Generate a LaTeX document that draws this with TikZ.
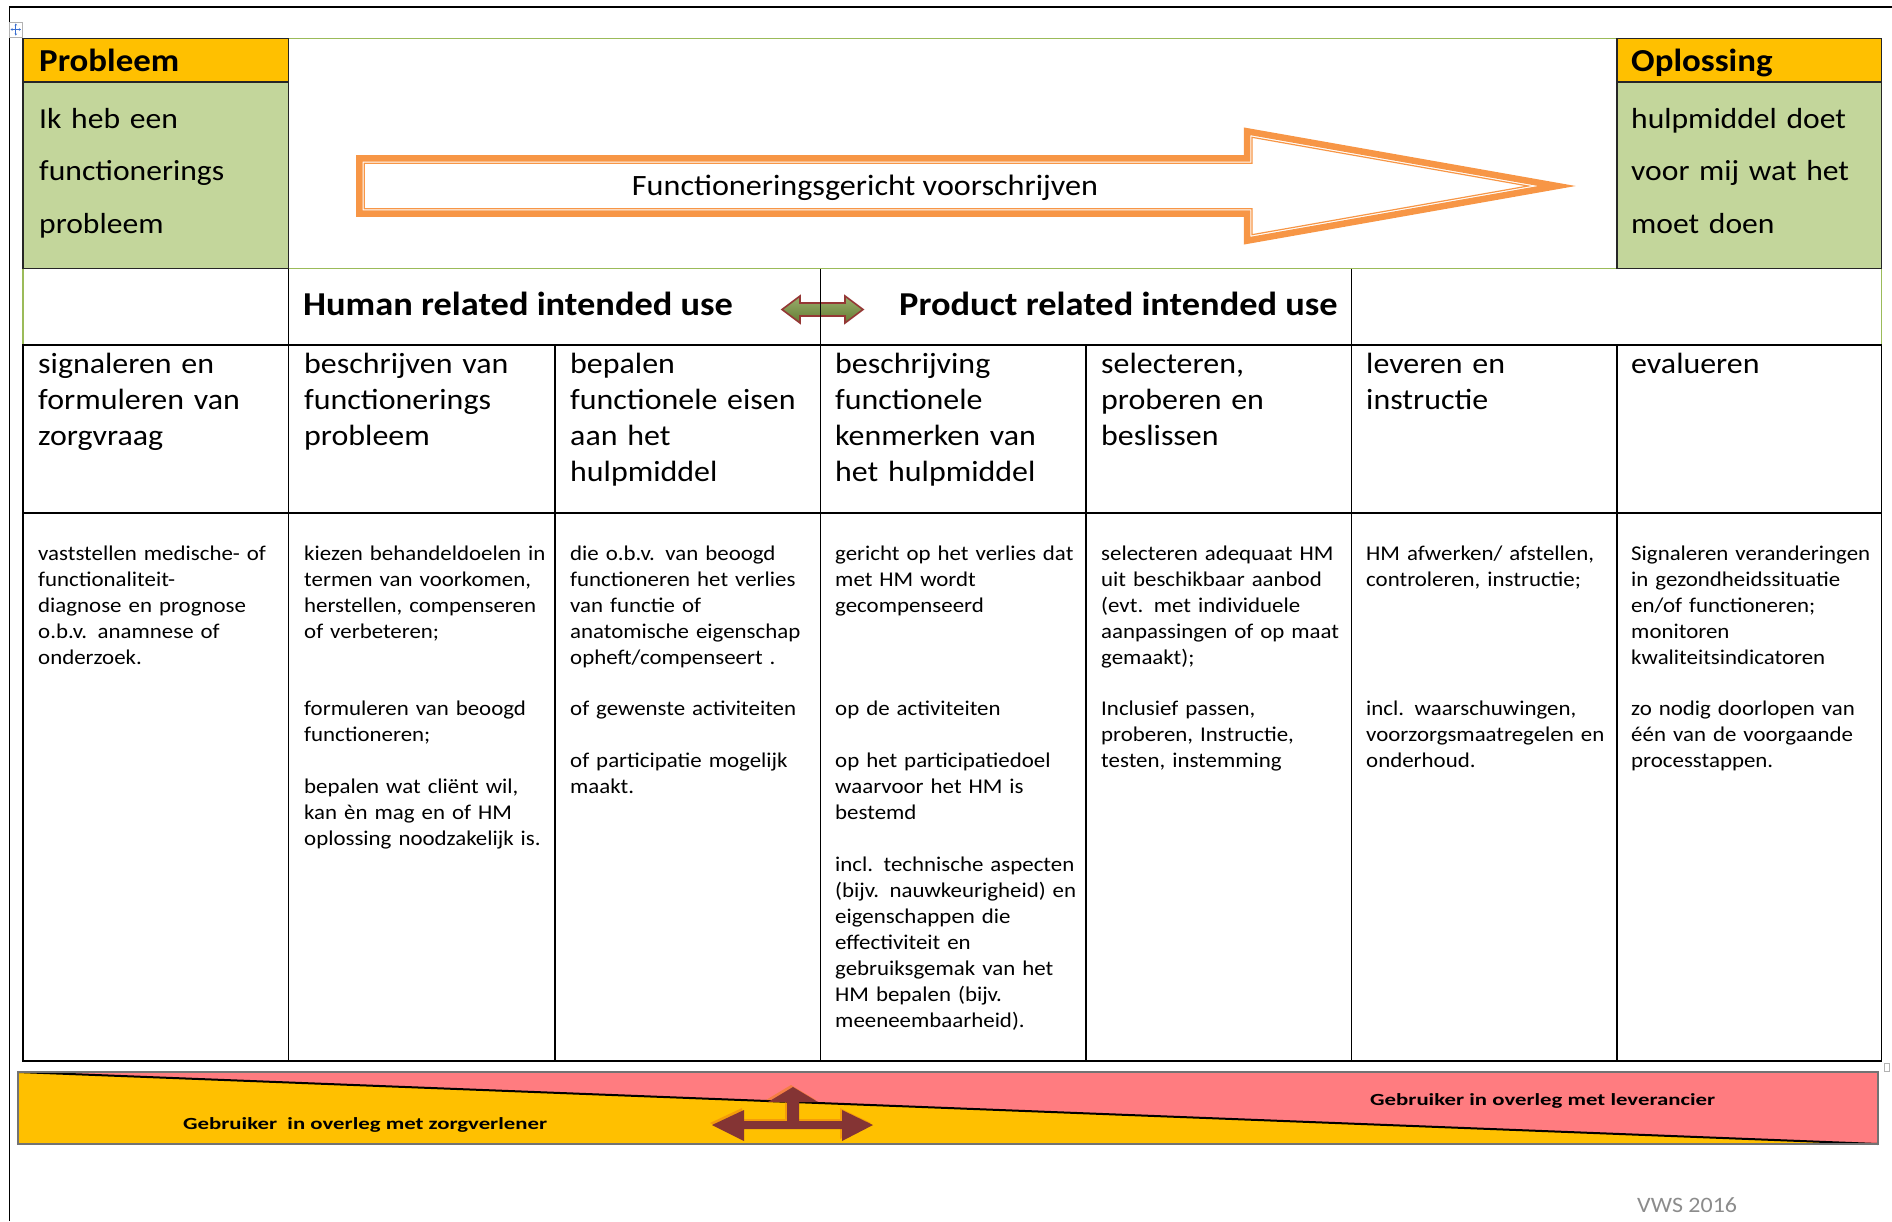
\documentclass[tikz,border=0pt]{standalone}
\usepackage{fontspec}
\setmainfont{Carlito}[FakeStretch=1.09]
\newfontfamily\bandfont{Carlito}[FakeStretch=1.34]
\usetikzlibrary{arrows.meta}

\definecolor{hdrorange}{HTML}{FFC000}
\definecolor{boxgreen}{HTML}{C3D69B}
\definecolor{rulegreen}{HTML}{9BBB59}
\definecolor{arroworange}{HTML}{F79646}
\definecolor{olivegreen}{HTML}{77933C}
\definecolor{rust}{HTML}{953735}
\definecolor{bandpink}{HTML}{FF7C80}
\definecolor{bandgold}{HTML}{FFC000}
\definecolor{maroonfill}{HTML}{843434}
\definecolor{creditgray}{HTML}{8C8C8C}
\definecolor{handleblue}{HTML}{3B6FD0}

\begin{document}
\begin{tikzpicture}[x=1pt,y=-1pt,line join=miter,
  title/.style={anchor=base west,inner sep=0pt,font=\fontsize{32}{38}\selectfont\bfseries},
  boxtext/.style={anchor=base west,inner sep=0pt,text width=250pt,align=left,font=\fontsize{29}{52.7}\selectfont},
  colhead/.style={anchor=base west,inner sep=0pt,text width=250pt,align=left,font=\fontsize{29.3}{36.2}\selectfont},
  body/.style={anchor=base west,inner sep=0pt,text width=250pt,align=left,font=\fontsize{21}{26}\selectfont},
  rowlbl/.style={anchor=base west,inner sep=0pt,font=\fontsize{33.4}{40}\selectfont\bfseries},
  bandlbl/.style={anchor=base west,inner sep=0pt,font=\bandfont\fontsize{17}{20}\selectfont\bfseries},
  gridline/.style={black,line width=1.3pt},
  greenline/.style={rulegreen,line width=1.3pt},
  boxline/.style={black!85,line width=1.5pt}]

\useasboundingbox (0,0) rectangle (1892,1221);

% page frame
\draw[black,line width=1.5pt] (9.5,1221) -- (9.5,7) -- (1892,7);

% table move handle
\draw[gray!60,fill=white,line width=0.6pt] (9.5,22) rectangle (22,37);
\draw[handleblue,line width=0.8pt,{Stealth[length=2pt,width=2.5pt]}-{Stealth[length=2pt,width=2.5pt]}] (15.8,23.5) -- (15.8,35.5);
\draw[handleblue,line width=0.8pt,{Stealth[length=2pt,width=2.5pt]}-{Stealth[length=2pt,width=2.5pt]}] (10.5,29.5) -- (21,29.5);

% ---- top row: problem and solution boxes ----
\fill[boxgreen] (23,38.5) rectangle (288.5,268.5);
\fill[hdrorange] (23,38.5) rectangle (288.5,82);
\fill[boxgreen] (1617,38.5) rectangle (1881.5,268.5);
\fill[hdrorange] (1617,38.5) rectangle (1881.5,82);

% light green rules of the outer rows
\draw[greenline] (288.5,38.5) -- (1617,38.5);
\draw[greenline] (23,268.5) -- (1881.5,268.5);
\draw[greenline] (23,268.5) -- (23,345);
\draw[greenline] (1881.5,268.5) -- (1881.5,345);

\draw[boxline] (23,38.5) rectangle (288.5,268.5);
\draw[boxline] (23,82) -- (288.5,82);
\draw[boxline] (1617,38.5) rectangle (1881.5,268.5);
\draw[boxline] (1617,82) -- (1881.5,82);

\node[title] (probTitle) at (39,71) {Probleem};
\node[boxtext] (probText) at (39,128) {Ik heb een\\functionerings\\probleem};
\node[title] (solTitle) at (1631,71) {Oplossing};
\node[boxtext] (solText) at (1631,128) {hulpmiddel doet\\voor mij wat het\\moet doen};

% ---- big outlined arrow ----
\draw[arroworange,fill=white,line width=6.5pt]
  (359.3,158.3) -- (1247,158.3) -- (1247,131.3) -- (1557,186) -- (1247,240.7)
  -- (1247,213.7) -- (359.3,213.7) -- cycle;
\draw[arroworange,line width=1.2pt]
  (364.3,163.3) -- (1252,163.3) -- (1252,137.3) -- (1528.2,186) -- (1252,234.7)
  -- (1252,208.7) -- (364.3,208.7) -- cycle;
\node[anchor=base,inner sep=0pt,font=\fontsize{29.5}{35}\selectfont] (arrowLabel) at (865,195) {Functioneringsgericht voorschrijven};

% ---- second row: intended use ----
\draw[gridline] (288.5,268.5) -- (288.5,345);
\draw[gridline] (1351.5,268.5) -- (1351.5,345);
\node[rowlbl] (humanUse) at (303,315) {Human related intended use};
\node[rowlbl] (productUse) at (899,315) {Product related intended use};
\draw[rust,line width=1.6pt,top color=olivegreen!75!white,bottom color=olivegreen!85!black]
  (782,309.5) -- (800,296) -- (800,303) -- (845,303) -- (845,296) -- (863,309.5)
  -- (845,323) -- (845,316) -- (800,316) -- (800,323) -- cycle;
\draw[gridline] (820.5,268.5) -- (820.5,345);

% ---- process table ----
\draw[gridline] (23,345) rectangle (1881.5,1061);
\draw[gridline] (23,513) -- (1881.5,513);
\foreach \cx in {288.5,555,820.5,1086,1351.5,1617}
  \draw[gridline] (\cx,345) -- (\cx,1061);
\draw[gray!60,line width=0.6pt] (1884,1063) rectangle (1889,1071);

\node[colhead] (h1) at (38,373) {signaleren en\\formuleren van\\zorgvraag};
\node[colhead] (h2) at (304,373) {beschrijven van\\functionerings\\probleem};
\node[colhead] (h3) at (570,373) {bepalen\\functionele eisen\\aan het\\hulpmiddel};
\node[colhead] (h4) at (835,373) {beschrijving\\functionele\\kenmerken van\\het hulpmiddel};
\node[colhead] (h5) at (1101,373) {selecteren,\\proberen en\\beslissen};
\node[colhead] (h6) at (1366,373) {leveren en\\instructie};
\node[colhead] (h7) at (1631,373) {evalueren};

\node[body] (c1a) at (38,560) {vaststellen medische- of\\functionaliteit-\\diagnose en prognose\\o.b.v. anamnese of\\onderzoek.};

\node[body] (c2a) at (304,560) {kiezen behandeldoelen in\\termen van voorkomen,\\herstellen, compenseren\\of verbeteren;};
\node[body] (c2b) at (304,715) {formuleren van beoogd\\functioneren;};
\node[body] (c2c) at (304,793) {bepalen wat cliënt wil,\\kan èn mag en of HM\\oplossing noodzakelijk is.};

\node[body] (c3a) at (570,560) {die o.b.v. van beoogd\\functioneren het verlies\\van functie of\\anatomische eigenschap\\opheft/compenseert .};
\node[body] (c3b) at (570,715) {of gewenste activiteiten};
\node[body] (c3c) at (570,767) {of participatie mogelijk\\maakt.};

\node[body] (c4a) at (835,560) {gericht op het verlies dat\\met HM wordt\\gecompenseerd};
\node[body] (c4b) at (835,715) {op de activiteiten};
\node[body] (c4c) at (835,767) {op het participatiedoel\\waarvoor het HM is\\bestemd};
\node[body] (c4d) at (835,871) {incl. technische aspecten\\(bijv. nauwkeurigheid) en\\eigenschappen die\\effectiviteit en\\gebruiksgemak van het\\HM bepalen (bijv.\\meeneembaarheid).};

\node[body] (c5a) at (1101,560) {selecteren adequaat HM\\uit beschikbaar aanbod\\(evt. met individuele\\aanpassingen of op maat\\gemaakt);};
\node[body] (c5b) at (1101,715) {Inclusief passen,\\proberen, Instructie,\\testen, instemming};

\node[body] (c6a) at (1366,560) {HM afwerken/ afstellen,\\controleren, instructie;};
\node[body] (c6b) at (1366,715) {incl. waarschuwingen,\\voorzorgsmaatregelen en\\onderhoud.};

\node[body] (c7a) at (1631,560) {Signaleren veranderingen\\in gezondheidssituatie\\en/of functioneren;\\monitoren\\kwaliteitsindicatoren};
\node[body] (c7b) at (1631,715) {zo nodig doorlopen van\\één van de voorgaande\\processtappen.};

% ---- bottom band: who consults whom ----
\fill[bandgold] (18,1072) rectangle (1878,1144);
\fill[bandpink] (18,1072) -- (1878,1072) -- (1878,1144) -- cycle;
\draw[black,line width=2pt] (18,1072) -- (1878,1144);
\draw[black!55,line width=1.3pt] (18,1072) rectangle (1878,1144);

\fill[orange!70!brown,opacity=0.55]
  ([shift={(-2,-2)}]712,1125) -- ([shift={(-2,-2)}]744,1110) -- ([shift={(-2,-2)}]744,1121)
  -- ([shift={(-2,-2)}]787,1121) -- ([shift={(-2,-2)}]787,1102) -- ([shift={(-2,-2)}]768,1102)
  -- ([shift={(-2,-2)}]793,1087) -- ([shift={(-2,-2)}]818,1102) -- ([shift={(-2,-2)}]799,1102)
  -- ([shift={(-2,-2)}]799,1121) -- ([shift={(-2,-2)}]842,1121) -- ([shift={(-2,-2)}]842,1110)
  -- ([shift={(-2,-2)}]873,1125) -- ([shift={(-2,-2)}]842,1141) -- ([shift={(-2,-2)}]842,1129)
  -- ([shift={(-2,-2)}]744,1129) -- ([shift={(-2,-2)}]744,1141) -- cycle;
\fill[maroonfill]
  (712,1125) -- (744,1110) -- (744,1121) -- (787,1121) -- (787,1102) -- (768,1102)
  -- (793,1087) -- (818,1102) -- (799,1102) -- (799,1121) -- (842,1121) -- (842,1110)
  -- (873,1125) -- (842,1141) -- (842,1129) -- (744,1129) -- (744,1141) -- cycle;

\node[bandlbl] (careLabel) at (183,1129) {Gebruiker\ \ in overleg met zorgverlener};
\node[bandlbl] (supplierLabel) at (1370,1105) {Gebruiker in overleg met leverancier};

\node[anchor=base west,inner sep=0pt,text=creditgray,font=\fontsize{22}{26}\selectfont] (credit) at (1637,1212) {VWS 2016};

\end{tikzpicture}
\end{document}
